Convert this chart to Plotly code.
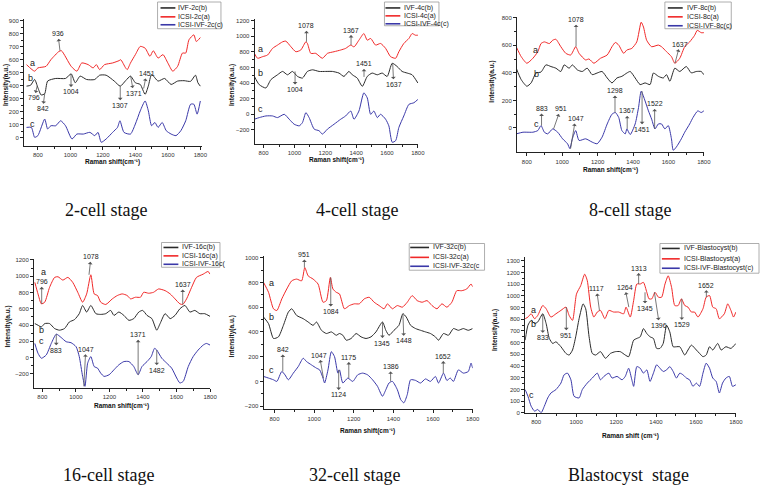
import plotly.graph_objects as go

# ---------------- data ----------------
# 2-cell
x_2c_icsi = [730,780,800,850,880,930,945,1005,1040,1070,1110,1140,1160,1180,1210,1260,1300,1310,1340,1350,1370,1400,1430,1460,1490,1510,1540,1570,1600,1630,1660,1690,1710,1730,1760,1775,1800]
y_2c_icsi = [563,513,538,550,601,665,670,550,513,576,563,538,563,525,563,576,594,601,538,525,576,640,703,690,627,670,614,640,576,513,550,652,652,754,792,741,771]
x_2c_ivf = [730,755,780,800,820,842,860,910,970,1005,1030,1060,1100,1150,1180,1220,1270,1307,1340,1370,1400,1430,1460,1480,1500,1540,1580,1620,1660,1700,1740,1770,1785,1800]
y_2c_ivf = [398,405,449,386,330,340,437,457,457,492,424,475,449,449,482,482,437,398,440,475,424,411,335,400,487,437,457,411,437,440,435,482,424,398]
x_2c_diff = [730,760,780,800,842,860,880,910,940,970,1010,1040,1080,1120,1150,1170,1190,1220,1260,1290,1305,1330,1370,1400,1430,1460,1480,1500,1520,1540,1565,1590,1620,1650,1680,1710,1740,1760,1780,1800]
y_2c_diff = [81,81,5,18,145,69,94,94,132,94,-8,30,30,43,18,43,-33,-8,43,81,132,43,30,107,208,284,208,94,119,81,119,56,30,18,56,132,259,259,183,284]

# 4-cell
x_4c_icsi = [740,761,794,826,858,890,923,944,977,1009,1041,1074,1084,1106,1138,1181,1214,1257,1300,1332,1365,1386,1418,1450,1472,1494,1526,1558,1591,1623,1656,1677,1709,1742,1763,1784,1800]
y_4c_icsi = [782,719,740,761,846,888,930,939,867,803,825,930,910,782,782,719,782,803,825,846,888,865,951,1036,951,973,888,909,846,740,719,803,909,973,1036,1015,1015]
x_4c_ivf = [740,772,815,847,890,923,955,987,1020,1052,1084,1117,1160,1203,1246,1289,1321,1353,1375,1407,1440,1472,1504,1537,1569,1601,1634,1666,1698,1731,1763,1800]
y_4c_ivf = [486,380,338,444,507,550,507,550,486,465,550,571,550,550,550,529,486,550,507,465,359,486,529,507,529,486,655,613,550,529,507,402]
x_4c_diff = [740,772,815,858,890,934,966,998,1031,1052,1074,1095,1128,1160,1181,1214,1257,1300,1332,1365,1386,1418,1450,1472,1494,1515,1537,1558,1591,1612,1634,1656,1677,1709,1742,1774,1800]
y_4c_diff = [-63,-42,-21,-21,-42,0,-63,-127,-148,-106,21,-42,-190,-211,-254,-190,-127,-63,-21,42,-63,42,275,211,0,42,-42,0,-63,-148,-359,-338,-169,-21,127,148,190]

# 8-cell
x_8c_icsi = [740,768,800,834,862,880,899,927,946,964,992,1020,1048,1076,1095,1132,1151,1179,1216,1254,1281,1300,1319,1347,1365,1393,1421,1446,1459,1477,1505,1543,1561,1589,1617,1636,1664,1692,1720,1748,1763,1785,1800]
y_8c_icsi = [590,518,470,506,554,613,625,613,637,644,590,542,530,590,542,494,501,470,506,530,590,621,602,542,566,578,625,768,733,637,590,602,590,554,518,470,506,590,625,673,709,692,692]
x_8c_ivf = [740,768,800,824,852,880,908,936,964,992,1011,1039,1057,1085,1113,1141,1169,1197,1225,1254,1281,1309,1337,1365,1384,1412,1440,1468,1496,1515,1543,1571,1589,1608,1636,1664,1701,1729,1757,1785,1800]
y_8c_ivf = [434,351,303,327,399,406,458,446,434,410,458,434,458,422,410,434,387,399,410,363,327,363,375,399,410,363,315,327,315,399,375,363,387,339,434,410,446,400,410,410,387]
x_8c_diff = [740,778,800,834,862,880,899,918,946,974,1002,1030,1043,1057,1076,1095,1132,1169,1197,1225,1254,1281,1300,1319,1337,1356,1365,1384,1412,1431,1446,1468,1487,1505,1524,1543,1561,1580,1599,1617,1627,1645,1673,1692,1720,1739,1766,1785,1800]
y_8c_diff = [-43,-31,-31,-31,-19,17,-31,-43,-7,-31,-79,-115,-150,-79,-19,-91,-79,-103,-115,-67,29,100,112,76,-19,-43,-7,-48,29,148,267,196,124,64,-7,29,29,-7,17,-79,-162,-138,-79,-31,29,76,124,112,124]

# 16-cell
x_16c_icsi = [755,774,794,814,843,873,893,922,952,981,1011,1040,1064,1089,1109,1129,1148,1178,1217,1247,1276,1306,1326,1355,1385,1404,1434,1463,1493,1532,1562,1591,1620,1637,1660,1690,1719,1759,1788,1800]
y_16c_icsi = [925,783,661,681,864,986,994,953,986,925,803,681,783,1018,783,763,681,653,722,763,783,763,722,742,742,803,791,803,844,823,783,722,661,653,722,864,986,1026,1059,1026]
x_16c_ivf = [755,774,794,814,843,873,902,932,961,991,1020,1040,1064,1089,1119,1148,1178,1207,1227,1256,1286,1316,1345,1375,1398,1424,1453,1482,1502,1532,1562,1591,1620,1650,1680,1709,1739,1768,1800]
y_16c_ivf = [418,398,377,418,418,357,337,357,438,466,540,641,560,641,540,531,540,580,519,560,519,458,479,560,580,519,479,337,418,540,479,519,600,641,560,580,540,540,507]
x_16c_diff = [755,774,794,823,853,883,912,942,971,1001,1020,1040,1054,1070,1089,1109,1129,1148,1168,1198,1227,1256,1286,1316,1345,1371,1394,1424,1449,1469,1482,1512,1542,1571,1601,1620,1640,1670,1699,1729,1759,1778,1800]
y_16c_diff = [174,53,-8,32,174,288,247,195,183,134,12,-231,-353,-69,12,-110,-130,-191,-231,-211,-150,-89,-49,-49,-110,-211,-110,-49,12,114,93,-8,-69,-130,-251,-312,-292,-110,12,93,154,174,154]

# 32-cell
x_32c_icsi = [745,770,795,812,837,862,887,912,937,953,970,995,1020,1045,1062,1082,1095,1112,1128,1153,1178,1203,1228,1253,1278,1303,1328,1353,1370,1395,1420,1445,1470,1495,1520,1545,1570,1595,1620,1645,1670,1695,1720,1745,1770,1792,1800]
y_32c_icsi = [800,720,587,573,667,747,813,827,813,920,853,827,787,640,653,840,747,720,707,587,613,627,627,667,680,640,613,587,627,587,613,600,640,693,653,640,653,613,587,627,600,640,733,733,747,787,765]
x_32c_ivf = [745,770,795,820,845,870,887,912,945,970,995,1012,1037,1062,1087,1112,1128,1145,1162,1187,1212,1237,1262,1287,1312,1345,1362,1378,1403,1428,1448,1465,1487,1512,1537,1562,1587,1612,1628,1653,1678,1703,1728,1753,1778,1800]
y_32c_ivf = [520,467,347,360,453,560,587,533,507,480,453,480,413,387,400,373,387,373,333,347,387,360,347,360,400,480,413,373,413,453,547,520,453,427,413,400,387,360,333,387,373,427,413,427,413,427]
x_32c_diff = [745,770,795,812,837,853,870,895,920,945,962,987,1012,1028,1045,1053,1070,1087,1103,1120,1128,1145,1170,1195,1220,1245,1270,1295,1320,1345,1362,1378,1395,1420,1437,1453,1470,1487,1512,1537,1562,1587,1612,1628,1653,1670,1687,1703,1728,1753,1778,1792,1800]
y_32c_diff = [40,27,13,0,80,53,13,67,120,187,160,133,107,93,27,-13,93,240,200,67,93,-13,27,0,53,67,53,13,-40,-120,-67,-13,0,-67,-147,-173,-107,13,8,-13,20,0,40,-13,67,8,27,0,93,67,80,147,107]

# Blastocyst
x_bl_icsi = [745,759,775,792,808,833,850,874,899,924,949,965,982,1002,1023,1043,1056,1073,1089,1106,1122,1144,1164,1188,1213,1238,1250,1271,1288,1304,1321,1337,1354,1365,1379,1395,1412,1428,1445,1461,1478,1494,1511,1527,1544,1560,1577,1593,1610,1635,1651,1668,1684,1701,1717,1742,1759,1775,1788,1800]
y_bl_icsi = [805,819,847,805,833,918,890,819,847,876,904,833,791,1017,1088,1186,1130,904,819,862,876,805,876,862,862,847,904,819,960,1102,1102,1116,1031,975,975,1031,989,989,1102,1172,1073,918,918,975,918,904,862,862,819,890,989,1003,904,890,805,847,932,876,819,862]
x_bl_ivf = [745,759,775,792,808,833,850,866,883,899,924,949,965,982,998,1015,1035,1048,1065,1081,1098,1122,1147,1172,1197,1221,1246,1263,1288,1304,1321,1337,1354,1370,1387,1403,1420,1436,1453,1469,1486,1502,1519,1544,1560,1577,1602,1618,1635,1651,1668,1684,1709,1726,1750,1775,1800]
y_bl_ivf = [621,749,791,763,777,847,763,636,593,607,565,508,494,537,650,805,932,890,650,508,494,523,466,508,523,523,494,480,621,636,650,720,678,650,636,551,551,593,749,692,565,565,565,494,537,579,537,508,480,494,565,537,593,537,565,551,593]
x_bl_diff = [745,759,775,792,808,825,841,858,874,899,924,940,957,974,990,1015,1031,1056,1081,1106,1122,1139,1164,1180,1205,1230,1246,1263,1279,1288,1304,1321,1337,1354,1370,1387,1403,1420,1436,1453,1469,1486,1502,1519,1535,1552,1568,1585,1602,1618,1635,1651,1668,1684,1701,1717,1733,1750,1767,1783,1800]
y_bl_diff = [198,141,56,14,28,0,56,127,169,198,254,325,339,282,141,127,198,254,297,339,282,311,339,297,311,282,311,381,282,226,395,381,339,367,268,339,410,381,353,367,395,353,297,339,325,297,282,226,254,226,339,424,381,297,268,169,254,297,311,226,240]

legend_names = [
    ["IVF-2c(b)", "ICSI-2c(a)", "ICSI-IVF-2c(c)"],
    ["IVF-4c(b)", "ICSI-4c(a)", "ICSI-IVF-4c(c)"],
    ["IVF-8c(b)", "ICSI-8c(a)", "ICSI-IVF-8c(c)"],
    ["IVF-16c(b)", "ICSI-16c(a)", "ICSI-IVF-16c("],
    ["IVF-32c(b)", "ICSI-32c(a)", "ICSI-IVF-32c(c"],
    ["IVF-Blastocyst(b)", "ICSI-Blastocyst(a)", "ICSI-IVF-Blastocyst(c)"],
]
stage_titles = ["2-cell stage", "4-cell stage", "8-cell stage",
                "16-cell stage", "32-cell stage", "Blastocyst  stage"]
x_titles = ["Raman shift(cm⁻¹)"] * 5 + ["Raman shift (cm⁻¹)"]
y_title = "Intensity(a.u.)"

# peak labels: (panel, text, wavenumber, intensity on curve, dx px, dy px)
peak_labels = [
    (0, "936", 936, 670, -2, -17), (0, "1004", 1004, 492, 0, 18), (0, "1307", 1307, 398, 0, 19),
    (0, "1371", 1371, 475, 3, 17), (0, "1451", 1451, 380, 3, -15), (0, "796", 796, 400, -3, 12),
    (0, "842", 842, 340, -2, 15),
    (1, "1078", 1078, 930, 0, -16), (1, "1367", 1367, 888, 0, -15), (1, "1451", 1451, 480, 0, -13),
    (1, "1004", 1004, 550, 0, 18), (1, "1637", 1637, 655, 1, 21),
    (2, "1078", 1078, 590, 0, -27), (2, "1637", 1637, 470, 5, -19), (2, "883", 883, 17, 0, -17),
    (2, "951", 951, -7, 7, -20), (2, "1047", 1047, -150, 5, -30), (2, "1298", 1298, 112, 0, -22),
    (2, "1367", 1367, -7, 0, -18), (2, "1451", 1451, 267, 0, 38), (2, "1522", 1522, -7, 0, -25),
    (3, "1078", 1078, 1018, 2, -18), (3, "796", 796, 661, 0, -22), (3, "1637", 1637, 653, 0, -20),
    (3, "883", 883, 288, 0, 16), (3, "1047", 1047, -353, 2, -37), (3, "1371", 1371, -211, 0, -40),
    (3, "1482", 1482, 93, 0, 20),
    (4, "951", 951, 920, 0, -13), (4, "1084", 1084, 840, 0, 34), (4, "1345", 1345, 480, 0, 21),
    (4, "1448", 1448, 547, 1, 27), (4, "842", 842, 80, 0, -22), (4, "1047", 1047, 27, -4, -23),
    (4, "1175", 1175, 27, 0, -21), (4, "1124", 1124, 93, 0, 25), (4, "1386", 1386, 0, 0, -15),
    (4, "1652", 1652, 67, 0, -17),
    (5, "1313", 1313, 1102, 0, -16), (5, "1117", 1117, 875, -3, -22), (5, "1264", 1264, 904, -4, -20),
    (5, "1652", 1652, 989, 0, -12), (5, "1345", 1345, 1031, 0, 16), (5, "1396", 1392, 1031, 5, 33),
    (5, "1529", 1529, 975, 0, 26), (5, "833", 833, 847, 0, 24), (5, "951", 951, 904, 0, 28),
]

# ---------------- layout geometry (pixels) ----------------
W, H = 767, 489
panels = [
    dict(px=(24.3, 203.5), py=(17, 145), xr=[715, 1808], yr=[-58, 915], ydt=100, y0=0, ymax=900),
    dict(px=(257, 422), py=(17, 143), xr=[742, 1802], yr=[-375, 1225], ydt=200, y0=-200, ymax=1200),
    dict(px=(521.7, 710.5), py=(15, 152), xr=[744, 1801], yr=[-178, 807], ydt=200, y0=0, ymax=800),
    dict(px=(34.3, 212), py=(260, 390), xr=[750, 1800], yr=[-374, 1208], ydt=200, y0=-200, ymax=1200),
    dict(px=(266, 477), py=(256.7, 411.7), xr=[745, 1800], yr=[-227, 1013], ydt=200, y0=-200, ymax=1000),
    dict(px=(530, 742.7), py=(258, 415), xr=[745, 1800], yr=[0, 1330], ydt=100, y0=0, ymax=1300),
]
series = [
    [(x_2c_ivf, y_2c_ivf), (x_2c_icsi, y_2c_icsi), (x_2c_diff, y_2c_diff)],
    [(x_4c_ivf, y_4c_ivf), (x_4c_icsi, y_4c_icsi), (x_4c_diff, y_4c_diff)],
    [(x_8c_ivf, y_8c_ivf), (x_8c_icsi, y_8c_icsi), (x_8c_diff, y_8c_diff)],
    [(x_16c_ivf, y_16c_ivf), (x_16c_icsi, y_16c_icsi), (x_16c_diff, y_16c_diff)],
    [(x_32c_ivf, y_32c_ivf), (x_32c_icsi, y_32c_icsi), (x_32c_diff, y_32c_diff)],
    [(x_bl_ivf, y_bl_ivf), (x_bl_icsi, y_bl_icsi), (x_bl_diff, y_bl_diff)],
]
colors = ["#2a2a2a", "#f02828", "#3a38a8"]
FONT = "Arial, Liberation Sans, sans-serif"

letters = [
    [(33, 62, "a"), (31, 77, "b"), (33, 123, "c")],
    [(263, 47, "a"), (263, 72, "b"), (263, 108, "c")],
    [(540, 48, "a"), (541, 73, "b"), (541, 123, "c")],
    [(44, 273, "a"), (42, 331, "b"), (42, 343, "c")],
    [(274, 284, "a"), (274, 318, "b"), (274, 372, "c")],
    [(538, 311, "a"), (538, 325, "b"), (536, 397, "c")],
]
legend_boxes = [
    (159, 0, 223, 27, 162, 177, 178, (6, 15, 23)),
    (388, 0, 443, 24, 389, 404, 406, (6, 14, 22)),
    (671, 0, 738, 27, 674, 689, 691, (6, 15, 24)),
    (163, 243, 222, 268, 165, 180, 182, (248, 256.5, 265)),
    (413, 244, 489, 271, 414, 433, 435, (248, 258, 267)),
    (666, 244, 766, 274, 668, 686, 688, (249, 259.5, 269)),
]
xtitle_pos = [(114, 162), (340, 160), (616, 170), (123, 408), (371, 433), (636, 438)]
ytitle_pos = [(6, 84), (234, 84), (497, 80), (8, 328), (234, 338), (499, 331)]
stage_pos = [(107, 210), (360, 210), (636, 210), (109, 478), (358, 478), (634, 478)]


def fx(p):
    return p / W


def fy(p):
    return 1 - p / H


def paper_text(x, y, text, size, family=FONT, xanchor="center", angle=0, color="#222", weight="normal"):
    return dict(x=fx(x), y=fy(y), xref="paper", yref="paper", showarrow=False, text=text,
                xanchor=xanchor, yanchor="middle", textangle=angle,
                font=dict(size=size, family=family, color=color, weight=weight))


fig = go.Figure()
layout = dict(width=W, height=H, margin=dict(l=0, r=0, t=0, b=0),
              paper_bgcolor="white", plot_bgcolor="white", showlegend=False,
              font=dict(family=FONT, size=7, color="#222"))
annotations = []
shapes = []

for i, (pn, ser) in enumerate(zip(panels, series)):
    n = "" if i == 0 else str(i + 1)
    xa, ya = "x" + n, "y" + n
    for (xs, ys), col, name in zip(ser, colors, legend_names[i]):
        fig.add_trace(go.Scatter(x=xs, y=ys, mode="lines", name=name,
                                 line=dict(color=col, width=1.0, shape="spline", smoothing=0.6),
                                 xaxis=xa, yaxis=ya, hoverinfo="skip"))
    layout["xaxis" + n] = dict(
        domain=[fx(pn["px"][0]), fx(pn["px"][1])], range=pn["xr"], anchor=ya,
        showgrid=False, zeroline=False, showline=True, linecolor="#222", linewidth=1,
        ticks="outside", ticklen=3, tickwidth=0.8, tickcolor="#222",
        tickvals=[800, 1000, 1200, 1400, 1600, 1800],
        minor=dict(tickvals=[900, 1100, 1300, 1500, 1700], ticks="outside", ticklen=2, tickcolor="#222"),
        tickfont=dict(size=6, color="#333", family=FONT))
    yt = list(range(pn["y0"], pn["ymax"] + 1, pn["ydt"]))
    ym = [v + pn["ydt"] / 2 for v in yt if v + pn["ydt"] / 2 < pn["yr"][1]]
    layout["yaxis" + n] = dict(
        domain=[fy(pn["py"][1]), fy(pn["py"][0])], range=pn["yr"], anchor=xa,
        showgrid=False, zeroline=False, showline=True, linecolor="#222", linewidth=1,
        ticks="outside", ticklen=3, tickwidth=0.8, tickcolor="#222",
        tickvals=yt, minor=dict(tickvals=ym, ticks="outside", ticklen=2, tickcolor="#222"),
        tickfont=dict(size=6, color="#333", family=FONT))

    tx, ty = xtitle_pos[i]
    annotations.append(paper_text(tx, ty, x_titles[i], 6.5, color="#111", weight="bold"))
    tx, ty = ytitle_pos[i]
    annotations.append(paper_text(tx, ty, y_title, 6.5, angle=-90, color="#111", weight="bold"))
    tx, ty = stage_pos[i]
    annotations.append(paper_text(tx, ty, stage_titles[i], 18,
                                  family="Liberation Serif, Times New Roman, serif", color="#111"))
    for (lx, ly, t) in letters[i]:
        annotations.append(paper_text(lx, ly, t, 9))
    l, t, r, b, lx0, lx1, txx, rows = legend_boxes[i]
    shapes.append(dict(type="rect", xref="paper", yref="paper", x0=fx(l), x1=fx(r), y0=fy(b), y1=fy(t),
                       line=dict(color="#999", width=0.8), fillcolor="white", layer="above"))
    for ry, col, name in zip(rows, colors, legend_names[i]):
        shapes.append(dict(type="line", xref="paper", yref="paper", x0=fx(lx0), x1=fx(lx1),
                           y0=fy(ry), y1=fy(ry), line=dict(color=col, width=1.6), layer="above"))
        annotations.append(paper_text(txx, ry, name, 7, xanchor="left"))

for (pi, txt, wx, wy, dx, dy) in peak_labels:
    n = "" if pi == 0 else str(pi + 1)
    annotations.append(dict(x=wx, y=wy, xref="x" + n, yref="y" + n, text=txt,
                            showarrow=True, ax=dx, ay=dy, arrowside="start",
                            arrowhead=2, arrowsize=0.7, arrowwidth=0.8, arrowcolor="#555",
                            standoff=0, startstandoff=0,
                            font=dict(size=7, family=FONT, color="#222")))

layout["annotations"] = annotations
layout["shapes"] = shapes
fig.update_layout(**layout)
fig.write_html("out.html")
